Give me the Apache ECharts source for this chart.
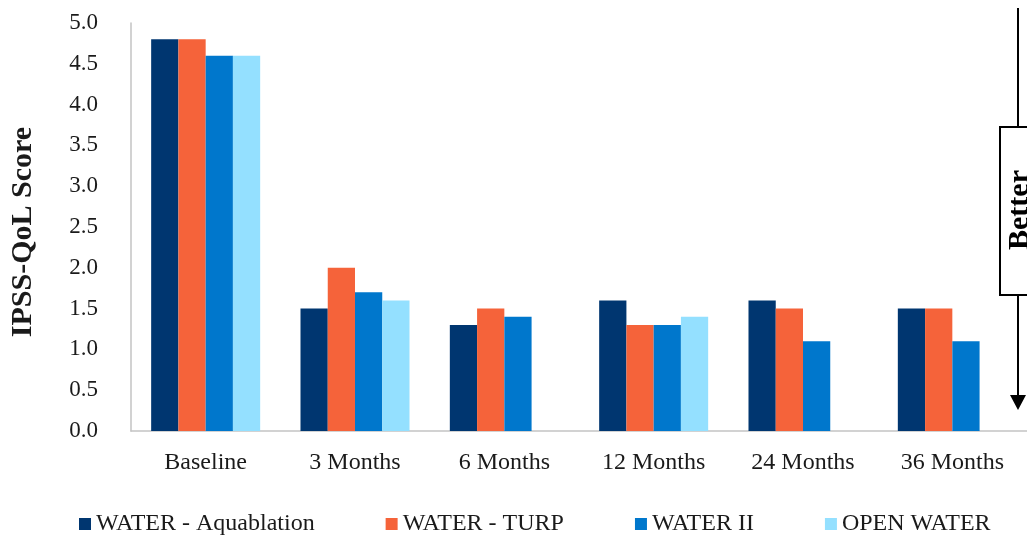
<!DOCTYPE html>
<html>
<head>
<meta charset="utf-8">
<script src="https://cdn.jsdelivr.net/npm/echarts@6/dist/echarts.min.js"></script>
<style>
  html, body { margin: 0; padding: 0; background: #fff; }
  #chart { width: 1027px; height: 536px; }
</style>
</head>
<body>
<div id="chart"></div>
<script>
// categories and values
const categories = ['Baseline', '3 Months', '6 Months', '12 Months', '24 Months', '36 Months'];
const seriesNames = ['WATER - Aquablation', 'WATER - TURP', 'WATER II', 'OPEN WATER'];
const aquablation = [4.8, 1.5, 1.3, 1.6, 1.6, 1.5];
const turp = [4.8, 2.0, 1.5, 1.3, 1.5, 1.5];
const waterII = [4.6, 1.7, 1.4, 1.3, 1.1, 1.1];
const openWater = [4.6, 1.6, null, 1.4, null, null];
const colors = ['#003670', '#F5633A', '#0077CC', '#94E0FF'];

const font = 'Liberation Serif';
const chart = echarts.init(document.getElementById('chart'));

// 柱子
const seriesData = [aquablation, turp, waterII, openWater];
const series = seriesData.map((d, i) => ({
  name: seriesNames[i],
  type: 'bar',
  data: d,
  barGap: '0%',
  barCategoryGap: '27%',
  itemStyle: { color: colors[i] },
}));

const option = {
  animation: false,
  grid: { left: 131, right: -6, top: 23, bottom: 105 },
  legend: {
    data: seriesNames,
    top: 507,
    left: 74,
    icon: 'rect',
    itemWidth: 12,
    itemHeight: 12,
    itemGap: 71,
    textStyle: { fontFamily: font, fontSize: 24, color: '#1a1a1a' },
  },
  xAxis: {
    type: 'category',
    data: categories,
    axisLine: { lineStyle: { color: '#c3c3c3', width: 1.5 } },
    axisTick: { show: false },
    axisLabel: { margin: 20, fontFamily: font, fontSize: 24, color: '#1a1a1a' },
  },
  yAxis: {
    type: 'value',
    min: 0,
    max: 5,
    interval: 0.5,
    name: 'IPSS-QoL Score',
    nameLocation: 'middle',
    nameGap: 93,
    nameTextStyle: {
      fontFamily: font,
      fontSize: 30,
      fontWeight: 'bold',
      color: '#1a1a1a',
      padding: [0, 10, 0, 0],
    },
    axisLine: { show: true, lineStyle: { color: '#c3c3c3', width: 1.5 } },
    axisTick: { show: false },
    splitLine: { show: false },
    axisLabel: {
      margin: 33,
      fontFamily: font,
      fontSize: 23,
      color: '#1a1a1a',
      formatter: (v) => v.toFixed(1),
    },
  },
  // "Better" 箭头
  graphic: [
    { type: 'line', shape: { x1: 1018, y1: 8, x2: 1018, y2: 127 }, style: { stroke: '#000', lineWidth: 2 } },
    { type: 'rect', shape: { x: 1000, y: 127, width: 36, height: 168 }, style: { fill: '#fff', stroke: '#000', lineWidth: 2 } },
    { type: 'line', shape: { x1: 1018, y1: 295, x2: 1018, y2: 400 }, style: { stroke: '#000', lineWidth: 2 } },
    { type: 'polygon', shape: { points: [[1010, 395], [1026, 395], [1018, 410]] }, style: { fill: '#000' } },
    {
      type: 'text',
      x: 1020,
      y: 210,
      rotation: Math.PI / 2,
      style: {
        text: 'Better',
        font: 'bold 30px "Liberation Serif"',
        fill: '#000',
        align: 'center',
        verticalAlign: 'middle',
      },
    },
  ],
  series: series,
};

chart.setOption(option);
</script>
</body>
</html>
